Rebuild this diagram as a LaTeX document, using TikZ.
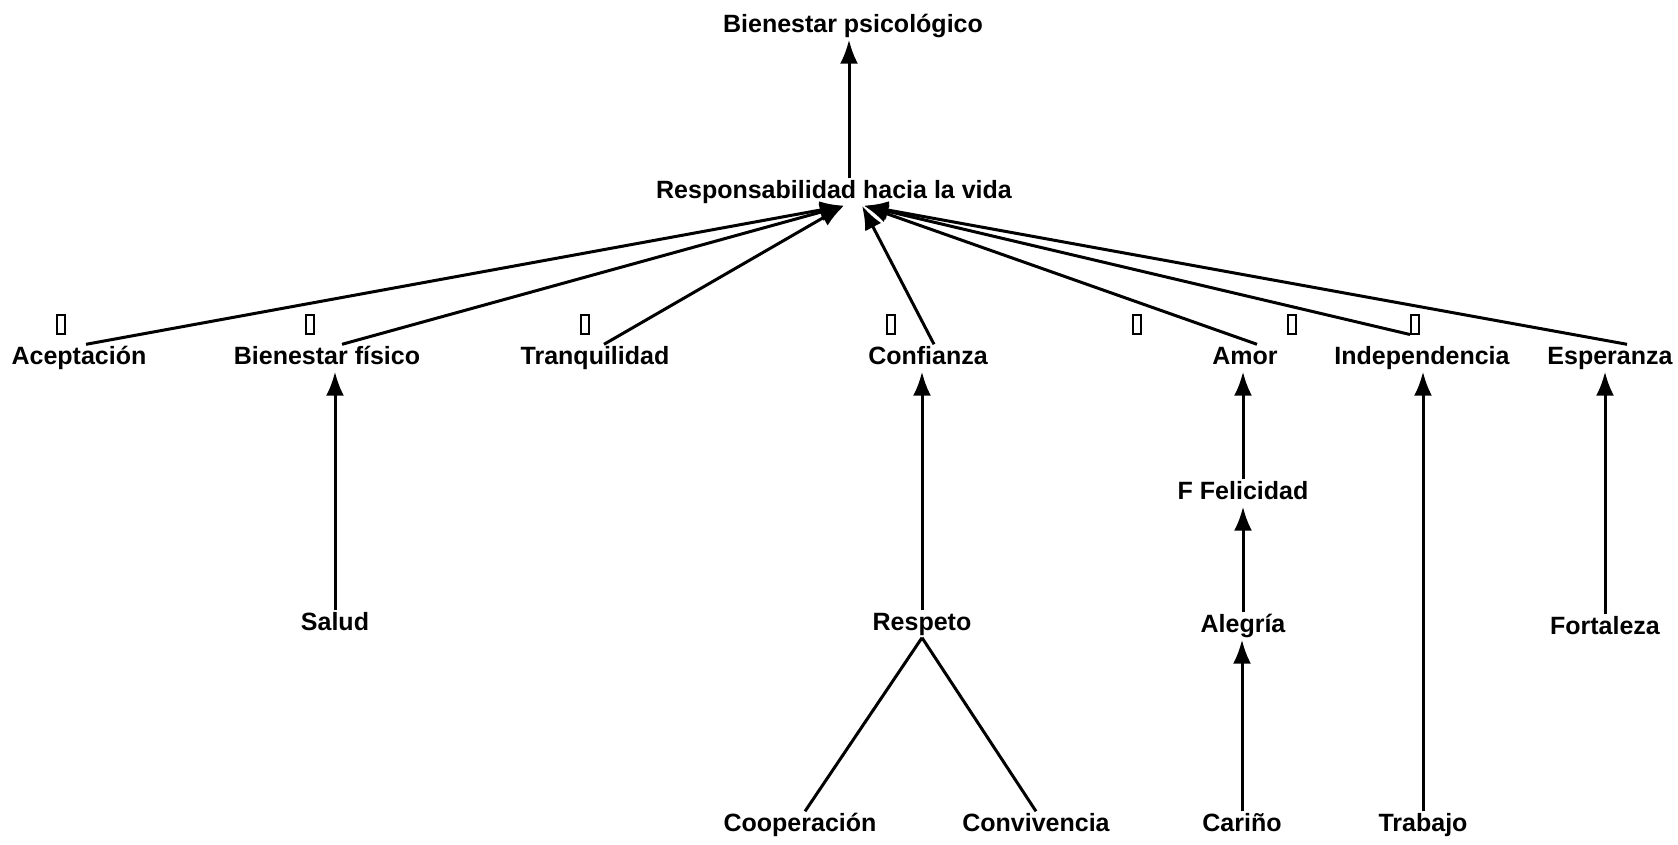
\documentclass[tikz,border=0pt]{standalone}
\usepackage{fontspec}
\setmainfont{Liberation Sans}
\usetikzlibrary{arrows.meta}

\begin{document}
\begin{tikzpicture}[x=1pt, y=-1pt,
    concept/.style={inner sep=2pt, text height=18pt, text depth=5pt, font=\fontsize{25}{30}\selectfont\bfseries},
    glyphbox/.style={draw, line width=2pt, minimum width=8pt, minimum height=19pt, inner sep=0pt},
    link/.style={line width=3pt},
    arr/.style={link, -{Latex[length=24pt,width=18pt]}}]
    \useasboundingbox (0,0) rectangle (1678,844);

    % Top
    \node[concept] (psic) at (853,26) {Bienestar psicológico};
    \node[concept] (resp) at (834,192) {Responsabilidad hacia la vida};

    % Middle row
    \node[concept] (acep) at (79,358) {Aceptación};
    \node[concept] (bfis) at (327,358) {Bienestar físico};
    \node[concept] (tranq) at (595,358) {Tranquilidad};
    \node[concept] (conf) at (928,358) {Confianza};
    \node[concept] (amor) at (1245,358) {Amor};
    \node[concept] (indep) at (1422,358) {Independencia};
    \node[concept] (esper) at (1610,358) {Esperanza};

    % Little boxes above the row
    \foreach \x [count=\i] in {61,310,585,891,1137,1292,1415}
        \node[glyphbox] (box\i) at (\x,324) {};

    % Lower levels
    \node[concept] (feli) at (1243,493) {F Felicidad};
    \node[concept] (salud) at (335,624) {Salud};
    \node[concept] (respeto) at (922,624) {Respeto};
    \node[concept] (alegria) at (1243,626) {Alegría};
    \node[concept] (fort) at (1605,628) {Fortaleza};

    % Bottom row
    \node[concept] (coop) at (800,825) {Cooperación};
    \node[concept] (conv) at (1036,825) {Convivencia};
    \node[concept] (carino) at (1242,825) {Cariño};
    \node[concept] (trab) at (1423,825) {Trabajo};

    % Into the top
    \draw[arr] ([xshift=15pt]resp.north) -- ([xshift=15pt]resp.north |- psic.south);

    % Row to the hub
    \foreach \n/\s in {acep/7, bfis/15, tranq/9}
        \draw[arr] ([xshift=\s pt]\n.north) -- ([xshift=10pt]resp.south);
    \draw[arr] ([xshift=6pt]conf.north) -- ([xshift=28pt]resp.south);
    \draw[arr] ([xshift=12pt]amor.north) -- ([xshift=30pt]resp.south);
    \draw[arr] (box7.south west) -- ([xshift=30pt]resp.south);
    \draw[arr] ([xshift=17pt]esper.north) -- ([xshift=30pt]resp.south);

    % Upward arrows
    \foreach \a/\b in {salud/bfis, respeto/conf, alegria/feli, feli/amor, carino/alegria, trab/indep, fort/esper}
        \draw[arr] (\a.north) -- (\a.north |- \b.south);

    % Respeto branches
    \draw[link] (respeto.south) -- ([xshift=5pt]coop.north);
    \draw[link] (respeto.south) -- (conv.north);
\end{tikzpicture}
\end{document}
